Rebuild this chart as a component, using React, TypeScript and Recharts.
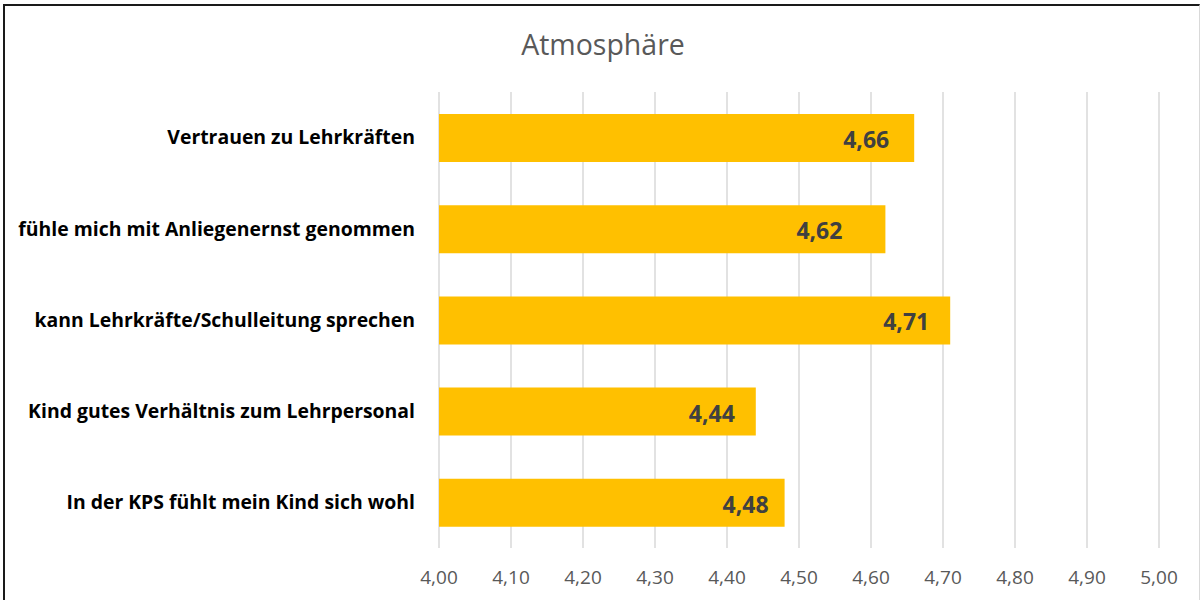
import React from "react";
import { BarChart, Bar, XAxis, YAxis, CartesianGrid, LabelList } from "recharts";

const categories = [
  "Vertrauen zu Lehrkräften",
  "fühle mich mit Anliegenernst genommen",
  "kann Lehrkräfte/Schulleitung sprechen",
  "Kind gutes Verhältnis zum Lehrpersonal",
  "In der KPS fühlt mein Kind sich wohl",
];
const values = [4.66, 4.62, 4.71, 4.44, 4.48];
const xTicks = [4.0, 4.1, 4.2, 4.3, 4.4, 4.5, 4.6, 4.7, 4.8, 4.9, 5.0];
const title = "Atmosphäre";

// styling: distance of each value label's right edge from its bar end
const labelGaps = [25, 43, 21, 21, 16];

const data = categories.map((name, i) => ({ name, value: values[i] }));

const fmt = (v: number) => v.toFixed(2).replace(".", ",");

const ValueLabel = (props: any) => {
  const { x, y, width, height, value, index } = props;
  return (
    <text
      x={x + width - labelGaps[index]}
      y={y + height / 2 + 1}
      textAnchor="end"
      dominantBaseline="central"
      fontFamily="Open Sans"
      fontWeight={700}
      fontSize={23}
      fill="#404040"
    >
      {fmt(value)}
    </text>
  );
};

export default function App() {
  return (
    <div style={{ position: "absolute", left: 0, top: 0, width: 1203, height: 600, background: "#fff" }}>
      <div
        style={{
          position: "absolute",
          left: 3,
          top: 4,
          width: 1197,
          height: 600,
          borderLeft: "2px solid #1a1a1a",
          borderTop: "2px solid #1a1a1a",
          borderRight: "1px solid #d9d9d9",
          boxSizing: "border-box",
        }}
      />
      <div
        style={{
          position: "absolute",
          left: 0,
          top: 25,
          width: 1206,
          textAlign: "center",
          fontFamily: "Open Sans",
          fontSize: 28.5,
          color: "#595959",
          lineHeight: "38px",
        }}
      >
        {title}
      </div>
      <div style={{ position: "absolute", left: 0, top: 0 }}>
        <BarChart
          width={1203}
          height={600}
          data={data}
          layout="vertical"
          margin={{ top: 92, right: 44, bottom: 12, left: 0 }}
          barSize={48}
        >
          <CartesianGrid horizontal={false} vertical={true} stroke="#d9d9d9" strokeWidth={1.5} />
          <XAxis
            type="number"
            domain={[4, 5]}
            ticks={xTicks}
            tickFormatter={fmt}
            axisLine={false}
            tickLine={false}
            tickSize={0}
            tickMargin={23}
            height={40}
            interval={0}
            tick={{ fill: "#595959", fontFamily: "Open Sans", fontSize: 19 }}
          />
          <YAxis
            type="category"
            dataKey="name"
            width={439}
            axisLine={false}
            tickLine={false}
            tickSize={0}
            tickMargin={24}
            interval={0}
            tick={{ fill: "#000", fontFamily: "Open Sans", fontWeight: 700, fontSize: 19.4 }}
          />
          <Bar dataKey="value" fill="#ffc000" isAnimationActive={false}>
            <LabelList dataKey="value" content={<ValueLabel />} />
          </Bar>
        </BarChart>
      </div>
    </div>
  );
}
